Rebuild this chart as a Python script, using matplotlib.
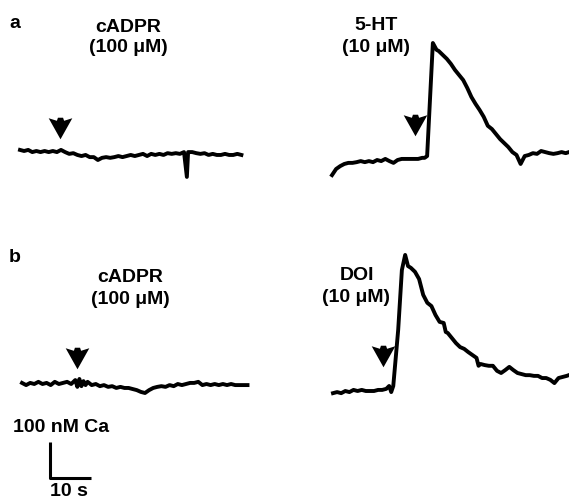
import matplotlib.pyplot as plt
from matplotlib.path import Path
import numpy as np

plt.rcParams['font.family'] = ['Liberation Sans', 'DejaVu Sans']

# figure size in pixels and trace scale (from the 10 s / 100 nM bar)
W, H = 569, 500
PX_PER_S = 4.1
PX_PER_NM = 0.36

# calcium traces: time (s) from start of record, Ca (nM) relative to resting level
a_cadpr_t = np.r_[0:41, 40.7, 41:55]
a_cadpr_ca = [3, 0, 3, -3, 0, -3, 0, -3, 0, -3, 3, -3, -8, -6, -11, -14, -11, -17, -17, -25,
              -19, -17, -19, -17, -14, -17, -14, -11, -14, -11, -8, -14, -8, -11, -8, -11, -6, -8, -6, -8,
              -3, -72, -3, -3, -6, -8, -6, -11, -8, -11, -11, -8, -11, -11, -8, -11]

a_5ht_t = np.r_[0:23, 22.6, 23.2, 24.6, 25.5, 26:58, 57.8]
a_5ht_ca = [-42, -25, -17, -11, -8, -8, -6, -3, -6, -3, -6, 0, -3, 3, -3, -8, 0, 3, 3, 3, 3, 3, 6,
            6, 11, 325, 306,
            303, 292, 281, 267, 250, 236, 222, 200, 175, 156, 139, 120, 95, 86, 72, 58, 47, 36, 22, 14,
            -11, 11, 14, 19, 17, 25, 22, 19, 17, 19, 22, 19, 22]

b_cadpr_t = np.r_[0:13, 13, 13.5, 14, 14.5, 15, 15.5, 16:56]
b_cadpr_ca = [3, -3, 3, 0, 6, 0, 3, -3, 6, 0, 3, 6, 0,
              11, -8, 14, -6, 8, -3,
              6, -3, 0, -6, -3, -8, -6, -11, -8, -11, -11, -14, -17, -22, -25, -17, -11, -8, -6, -8,
              -3, -6, 0, -3, 0, 3, 3, 6, -3, 0, -3, 0, -3, 0, -3, 0, -3, -3, -3, -3]

b_doi_t = np.r_[0:14, 13.7, 14.2, 14.7, 15.9, 16.8, 17.6, 18.3, 19:28, 27.5, 28:36, 35.5, 36:58, 57.5]
b_doi_ca = [-6, -3, -6, 0, -3, 3, 0, 3, 0, 0, 0, 3, 3, 6,
            14, -3, 14, 170, 336, 378, 347,
            342, 331, 311, 267, 245, 236, 211, 192, 189,
            164,
            161, 147, 133, 122, 117, 108, 100, 92,
            70,
            75, 72, 70, 70, 56, 50, 58, 67, 58, 50, 47, 44, 44, 42, 42, 36, 36, 31, 22, 36, 39, 42,
            44]

# drug application (arrow) times in s, and height of arrow centre above rest in nM
arrow_t = [9.8, 20.2, 13.4, 12.2]
arrow_mid = [65, 97, 73, 97]

scale_time = 10    # s
scale_ca = 100     # nM

# barbed arrowhead with a short stem, pointing down
arrow_marker = Path([(-11.5, 10.0), (-3.5, 7.5), (-2.5, 10.5), (2.5, 10.5), (3.5, 7.5),
                     (11.5, 10.0), (0, -10.5), (-11.5, 10.0)],
                    [Path.MOVETO] + [Path.LINETO] * 6 + [Path.CLOSEPOLY])

fig = plt.figure(figsize=(W / 100, H / 100), dpi=100)


def panel(x0, y0, t_lim=(-3, 62), ca_lim=(-120, 420)):
    # axes placed so that t=0, Ca=0 lands at pixel (x0, y0)
    left = x0 + t_lim[0] * PX_PER_S
    width = (t_lim[1] - t_lim[0]) * PX_PER_S
    bottom = H - y0 + ca_lim[0] * PX_PER_NM
    height = (ca_lim[1] - ca_lim[0]) * PX_PER_NM
    ax = fig.add_axes([left / W, bottom / H, width / W, height / H])
    ax.set_xlim(t_lim)
    ax.set_ylim(ca_lim)
    ax.axis('off')
    return ax


panels = [
    (panel(20, 151), a_cadpr_t, a_cadpr_ca),
    (panel(332, 160), a_5ht_t, a_5ht_ca),
    (panel(22, 384), b_cadpr_t, b_cadpr_ca),
    (panel(333, 391), b_doi_t, b_doi_ca),
]

for i, (ax, t, ca) in enumerate(panels):
    ax.plot(t, ca, color='black', lw=2.8, solid_joinstyle='round', clip_on=False)
    ax.plot(arrow_t[i], arrow_mid[i], marker=arrow_marker, ms=17, color='black',
            mew=0, clip_on=False)


def label(x, y, s, **kw):
    fig.text(x / W, 1 - y / H, s, ha='center', va='center', fontsize=14,
             fontweight='bold', **kw)


label(15, 23, 'a')
label(15, 258, 'b')
label(128, 27, 'cADPR')
label(128, 48, '(100 μM)')
label(376, 26, '5-HT')
label(376, 48, '(10 μM)')
label(130, 277, 'cADPR')
label(130, 299, '(100 μM)')
label(357, 276, 'DOI')
label(356, 297, '(10 μM)')
fig.text(13 / W, 1 - 427 / H, '100 nM Ca', ha='left', va='center', fontsize=14,
         fontweight='bold')
label(69, 492, '10 s')

# scale bar
sb = panel(50, 478, t_lim=(-2, 12), ca_lim=(-5, 110))
sb.plot([0, 0, scale_time], [scale_ca, 0, 0], color='black', lw=2.2,
        solid_capstyle='butt', clip_on=False)

fig.savefig('out.png', dpi=100)
